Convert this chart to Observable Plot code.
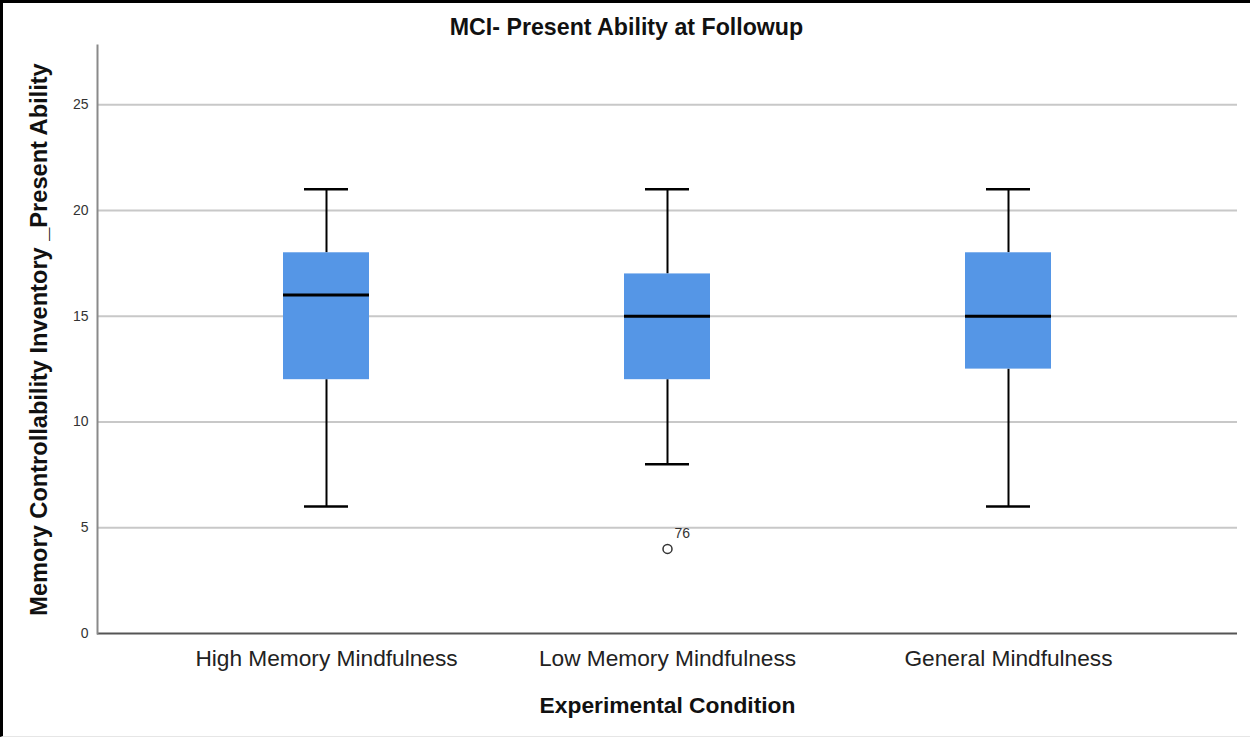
<!DOCTYPE html>
<html>
<head>
<meta charset="utf-8">
<script src="https://cdn.jsdelivr.net/npm/d3@7"></script>
<script src="https://cdn.jsdelivr.net/npm/@observablehq/plot@0.6"></script>
<style>
  html, body { margin: 0; padding: 0; background: #fff; }
  #wrap { position: relative; width: 1250px; height: 737px; overflow: hidden; background: #fff; }
  #wrap svg { position: absolute; left: 0; top: 0; font-family: "Liberation Sans", Arial, sans-serif; }
  #border { position: absolute; left: 0; top: 0; width: 1250px; height: 737px; box-sizing: border-box;
            border-top: 3px solid #000; border-left: 3px solid #000; border-bottom: 1px solid #e6e6e6; pointer-events: none; }
</style>
</head>
<body>
<div id="wrap"><div id="border"></div></div>
<script>
const categories = ["High Memory Mindfulness", "Low Memory Mindfulness", "General Mindfulness"];
const whiskerLow = [6, 8, 6];
const q1 = [12, 12, 12.5];
const median = [16, 15, 15];
const q3 = [18, 17, 18];
const whiskerHigh = [21, 21, 21];
const outlierCategory = ["Low Memory Mindfulness"];
const outlierValue = [4];
const outlierLabel = ["76"];
const yTicks = [0, 5, 10, 15, 20, 25];

const titleText = "MCI- Present Ability at Followup";
const xLabel = "Experimental Condition";
const yLabel = "Memory Controllability Inventory _Present Ability";

const boxes = categories.map((c, i) => ({
  cat: c, lo: whiskerLow[i], q1: q1[i], med: median[i], q3: q3[i], hi: whiskerHigh[i]
}));
const outliers = outlierCategory.map((c, i) => ({cat: c, v: outlierValue[i], label: outlierLabel[i]}));

const chart = Plot.plot({
  width: 1250,
  height: 737,
  marginLeft: 97,
  marginRight: 13,
  marginTop: 45,
  marginBottom: 104,
  style: {fontFamily: "'Liberation Sans', Arial, sans-serif", background: "transparent"},
  x: {domain: categories, paddingInner: 0.7485, paddingOuter: 0.541, label: null},
  y: {domain: [0, 27.8], label: null},
  marks: [
    Plot.gridY(yTicks.filter(d => d > 0), {stroke: "#c8c8c8", strokeOpacity: 1, strokeWidth: 2}),
    Plot.ruleY([0], {stroke: "#555", strokeWidth: 2}),
    Plot.frame({anchor: "left", stroke: "#8a8a8a", strokeWidth: 2}),
    Plot.axisY({ticks: yTicks, tickSize: 0, tickPadding: 9, fontSize: 14, fill: "#333", label: null}),
    Plot.axisX({tickSize: 0, tickPadding: 16, fontSize: 22.7, fill: "#222", label: null}),
    Plot.ruleX(boxes, {x: "cat", y1: "lo", y2: "q1", stroke: "#000", strokeWidth: 2}),
    Plot.ruleX(boxes, {x: "cat", y1: "q3", y2: "hi", stroke: "#000", strokeWidth: 2}),
    Plot.tickY(boxes, {x: "cat", y: "lo", stroke: "#000", strokeWidth: 2.5, inset: 21}),
    Plot.tickY(boxes, {x: "cat", y: "hi", stroke: "#000", strokeWidth: 2.5, inset: 21}),
    Plot.barY(boxes, {x: "cat", y1: "q1", y2: "q3", fill: "#5596e6"}),
    Plot.tickY(boxes, {x: "cat", y: "med", stroke: "#000", strokeWidth: 3}),
    Plot.dot(outliers, {x: "cat", y: "v", r: 4.5, stroke: "#333", strokeWidth: 1.5, fill: "white"}),
    Plot.text(outliers, {x: "cat", y: "v", text: "label", dx: 7, dy: -15, textAnchor: "start", fontSize: 14, fill: "#333"}),
    Plot.text([titleText], {frameAnchor: "top", dy: -18, dx: -41, lineAnchor: "middle", fontSize: 23.2, fontWeight: "bold", fill: "#111"}),
    Plot.text([xLabel], {frameAnchor: "bottom", dy: 72, lineAnchor: "middle", fontSize: 22.8, fontWeight: "bold", fill: "#111"}),
    Plot.text([yLabel], {frameAnchor: "left", dx: -58, rotate: -90, textAnchor: "middle", lineAnchor: "middle", fontSize: 23.6, fontWeight: "bold", fill: "#111"})
  ]
});
document.getElementById("wrap").insertBefore(chart, document.getElementById("border"));
</script>
</body>
</html>
